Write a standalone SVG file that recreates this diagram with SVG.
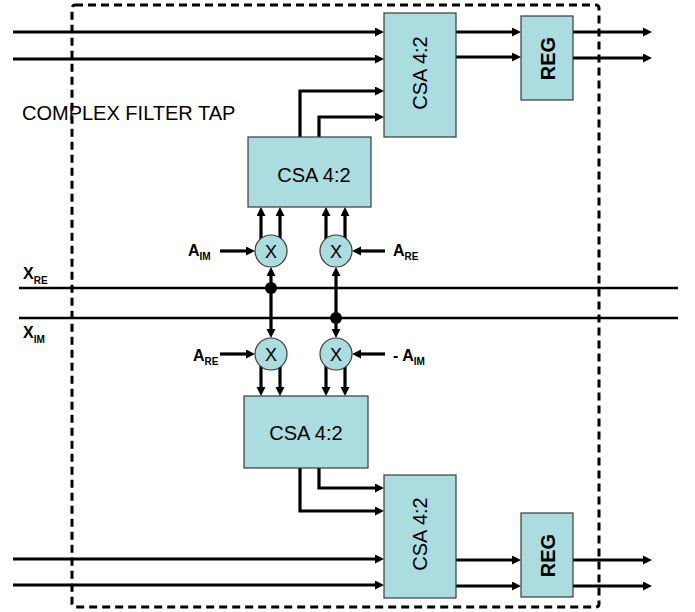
<svg xmlns="http://www.w3.org/2000/svg" width="695" height="612" viewBox="0 0 695 612">
<defs>
<marker id="arr" markerUnits="userSpaceOnUse" markerWidth="10" markerHeight="10" refX="1" refY="4.5" orient="auto">
<path d="M0,0 L9,4.5 L0,9 z" fill="#000"/>
</marker>
<style>
.box{fill:#ABDCE0;stroke:#3a3a3a;stroke-width:1.2}
.w{fill:none;stroke:#000;stroke-width:3.2}
.x{fill:none;stroke:#000;stroke-width:2.6}
.a{marker-end:url(#arr)}
.t{font-family:"Liberation Sans",Arial,sans-serif;font-size:20px;fill:#000}
.b{font-family:"Liberation Sans",Arial,sans-serif;font-weight:bold;fill:#000}
.m{font-family:"Liberation Sans",Arial,sans-serif;font-size:18px;fill:#000;text-anchor:middle}
</style>
</defs>
<rect x="72" y="5" width="527" height="602" rx="3" fill="none" stroke="#000" stroke-width="3" stroke-dasharray="8,5"/>
<text class="t" x="22" y="120">COMPLEX FILTER TAP</text>
<g id="connectors">
<line class="w a" x1="13" y1="32" x2="376" y2="32"/>
<line class="w a" x1="13" y1="59" x2="376" y2="59"/>
<polyline class="w a" points="300,137 300,91 376,91"/>
<polyline class="w a" points="319,137 319,117 376,117"/>
<line class="w a" x1="456" y1="32" x2="513" y2="32"/>
<line class="w a" x1="456" y1="57" x2="513" y2="57"/>
<line class="w a" x1="573" y1="32" x2="644" y2="32"/>
<line class="w a" x1="573" y1="58" x2="644" y2="58"/>
<line class="x" x1="19" y1="288" x2="678" y2="288"/>
<line class="x" x1="19" y1="318" x2="678" y2="318"/>
<line class="w a" x1="271" y1="288" x2="271" y2="275"/>
<line class="w a" x1="271" y1="288" x2="271" y2="330"/>
<line class="w a" x1="336" y1="318" x2="336" y2="275"/>
<line class="w a" x1="336" y1="318" x2="336" y2="330"/>
<circle cx="271" cy="288" r="6" fill="#000"/>
<circle cx="336" cy="318" r="6" fill="#000"/>
<line class="w a" x1="261" y1="240" x2="261" y2="215"/>
<line class="w a" x1="280" y1="240" x2="280" y2="215"/>
<line class="w a" x1="326" y1="240" x2="326" y2="215"/>
<line class="w a" x1="345" y1="240" x2="345" y2="215"/>
<line class="w a" x1="261" y1="366" x2="261" y2="388"/>
<line class="w a" x1="280" y1="366" x2="280" y2="388"/>
<line class="w a" x1="326" y1="366" x2="326" y2="388"/>
<line class="w a" x1="345" y1="366" x2="345" y2="388"/>
<line class="w a" x1="220" y1="251" x2="247" y2="251"/>
<line class="w a" x1="385" y1="251" x2="360" y2="251"/>
<line class="w a" x1="220" y1="354" x2="247" y2="354"/>
<line class="w a" x1="385" y1="354" x2="360" y2="354"/>
<polyline class="w a" points="300,468 300,511 376,511"/>
<polyline class="w a" points="319,468 319,488 376,488"/>
<line class="w a" x1="13" y1="559" x2="376" y2="559"/>
<line class="w a" x1="13" y1="585" x2="376" y2="585"/>
<line class="w a" x1="456" y1="560" x2="513" y2="560"/>
<line class="w a" x1="456" y1="586" x2="513" y2="586"/>
<line class="w a" x1="573" y1="560" x2="644" y2="560"/>
<line class="w a" x1="573" y1="586" x2="644" y2="586"/>
</g>
<g id="csa_top_right">
<rect class="box" x="384" y="13" width="72" height="124"/>
<text class="t" text-anchor="middle" transform="translate(427,73) rotate(-90)">CSA 4:2</text>
</g>
<g id="reg_top">
<rect class="box" x="521" y="16" width="52" height="84"/>
<text class="b" font-size="20" text-anchor="middle" transform="translate(555,58.5) rotate(-90)">REG</text>
</g>
<g id="csa_upper">
<rect class="box" x="248" y="137" width="123" height="70"/>
<text class="t" text-anchor="middle" x="314" y="182">CSA 4:2</text>
</g>
<g id="mul_ul"><circle class="box" cx="271" cy="251" r="16"/><text class="m" x="271" y="257.5">X</text></g>
<g id="mul_ur"><circle class="box" cx="336" cy="251" r="16"/><text class="m" x="336" y="257.5">X</text></g>
<g id="mul_ll"><circle class="box" cx="271" cy="354" r="16"/><text class="m" x="271" y="360.5">X</text></g>
<g id="mul_lr"><circle class="box" cx="336" cy="354" r="16"/><text class="m" x="336" y="360.5">X</text></g>
<g id="csa_lower">
<rect class="box" x="244" y="396" width="124" height="72"/>
<text class="t" text-anchor="middle" x="306" y="440">CSA 4:2</text>
</g>
<g id="csa_bottom_right">
<rect class="box" x="384" y="475" width="72" height="123"/>
<text class="t" text-anchor="middle" transform="translate(427,534) rotate(-90)">CSA 4:2</text>
</g>
<g id="reg_bottom">
<rect class="box" x="521" y="513" width="52" height="84"/>
<text class="b" font-size="20" text-anchor="middle" transform="translate(555,555.5) rotate(-90)">REG</text>
</g>
<g id="labels">
<text class="b" font-size="16" x="188" y="256">A<tspan font-size="10" dy="4">IM</tspan></text>
<text class="b" font-size="16" x="393" y="256">A<tspan font-size="10" dy="4">RE</tspan></text>
<text class="b" font-size="16" x="193" y="361">A<tspan font-size="10" dy="4">RE</tspan></text>
<text class="b" font-size="16" x="393" y="361">- A<tspan font-size="10" dy="4">IM</tspan></text>
<text class="b" font-size="16" x="23" y="279">X<tspan font-size="10" dy="5">RE</tspan></text>
<text class="b" font-size="16" x="23" y="338">X<tspan font-size="10" dy="5">IM</tspan></text>
</g>
</svg>
